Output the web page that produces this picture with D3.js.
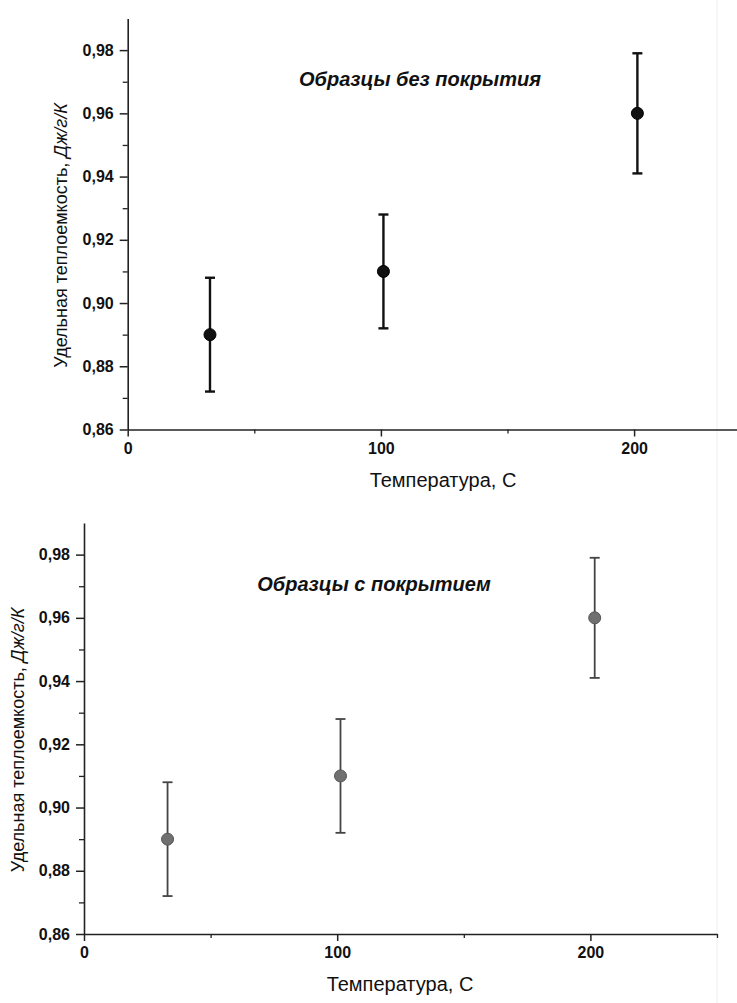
<!DOCTYPE html>
<html>
<head>
<meta charset="utf-8">
<script src="https://cdn.jsdelivr.net/npm/d3@7"></script>
<style>
  body { margin: 0; background: #fff; }
  svg { display: block; }
  text { font-family: "Liberation Sans", Arial, sans-serif; fill: #111; }
</style>
</head>
<body>
<svg id="chart" width="737" height="1003"></svg>
<script>
// ---------------- data
let temps     = [32.5, 101, 201.3];
let cpBare    = [0.890, 0.910, 0.960];
let errBare   = [0.018, 0.018, 0.019];
let temps2    = [33, 101.3, 201.7];
let cpCoated  = [0.890, 0.910, 0.960];
let errCoated = [0.018, 0.018, 0.019];
let yTicks = [0.86, 0.88, 0.90, 0.92, 0.94, 0.96, 0.98];
let xTicks = [0, 100, 200];
let titles = ["Образцы без покрытия", "Образцы с покрытием"];

let svg = d3.select("#chart");

// faint page edge from the scan
svg.append("line").attr("x1", 717).attr("x2", 717).attr("y1", 0).attr("y2", 1003)
    .attr("stroke", "#eee").attr("stroke-width", 1);

let fmt = d => d3.format(".2f")(d).replace(".", ",");

function styleTicks(ax) {
    ax.attr("font-size", 16).attr("font-family", "Liberation Sans, Arial, sans-serif");
    ax.selectAll("text").attr("font-weight", "bold").attr("fill", "#111")
        .style("font-size", "16px").style("font-weight", "bold");
}

function panel(opt) {
    let g = svg.append("g");
    let x = d3.scaleLinear().domain([0, 250]).range([opt.left, opt.left + 633]);
    let y = d3.scaleLinear().domain([0.86, 0.99]).range([opt.bottom, opt.bottom - 411]);

    // y axis: minor + major ticks
    let yAx = g.append("g").attr("transform", "translate(" + opt.left + ",0)")
        .call(d3.axisLeft(y).tickValues(d3.range(0.87, 0.99, 0.02)).tickSize(5).tickFormat(""));
    yAx.select(".domain").remove();
    yAx.selectAll("line").attr("stroke", "#222").attr("stroke-width", 1.3);
    let yAxis = g.append("g").attr("transform", "translate(" + opt.left + ",0)")
        .call(d3.axisLeft(y).tickValues(yTicks).tickSize(8).tickSizeOuter(0).tickPadding(6).tickFormat(fmt));
    yAxis.select(".domain").attr("stroke", "#222").attr("stroke-width", 1.6);
    yAxis.selectAll("line").attr("stroke", "#222").attr("stroke-width", 1.5);
    styleTicks(yAxis);

    // x axis
    let xMinor = g.append("g").attr("transform", "translate(0," + opt.bottom + ")")
        .call(d3.axisBottom(x).tickValues([50, 150, 250]).tickSize(4).tickFormat(""));
    xMinor.select(".domain").remove();
    xMinor.selectAll("line").attr("stroke", "#222").attr("stroke-width", 1.3);
    let xAxis = g.append("g").attr("transform", "translate(0," + opt.bottom + ")")
        .call(d3.axisBottom(x).tickValues(xTicks).tickSize(7).tickSizeOuter(0).tickPadding(6));
    xAxis.select(".domain").attr("stroke", "#222").attr("stroke-width", 1.6);
    xAxis.selectAll("line").attr("stroke", "#222").attr("stroke-width", 1.5);
    styleTicks(xAxis);

    // axis titles
    let yl = g.append("text")
        .attr("transform", "translate(" + opt.yLabelX + "," + (opt.bottom - 194) + ") rotate(-90)")
        .attr("text-anchor", "middle").style("font-size", "18px");
    yl.append("tspan").text("Удельная теплоемкость, ");
    yl.append("tspan").style("font-style", "italic").text("Дж/г/К");
    g.append("text").attr("x", opt.xLabelX).attr("y", opt.bottom + 57)
        .attr("text-anchor", "middle").style("font-size", "20px").text("Температура, С");

    // panel title
    g.append("text").attr("x", opt.titleX).attr("y", opt.bottom - opt.titleDy)
        .attr("text-anchor", "middle").style("font-size", "20px")
        .style("font-weight", "bold").style("font-style", "italic").text(opt.title);

    // error bars
    let pts = opt.xs.map((t, i) => ({t: t, v: opt.vs[i], e: opt.es[i]}));
    let eb = g.selectAll(".eb").data(pts).enter().append("g").attr("class", "eb")
        .attr("stroke", opt.barColor).attr("stroke-width", opt.barWidth);
    eb.append("line").attr("x1", d => x(d.t)).attr("x2", d => x(d.t))
        .attr("y1", d => y(d.v - d.e)).attr("y2", d => y(d.v + d.e));
    eb.append("line").attr("x1", d => x(d.t) - 5).attr("x2", d => x(d.t) + 5)
        .attr("y1", d => y(d.v + d.e)).attr("y2", d => y(d.v + d.e));
    eb.append("line").attr("x1", d => x(d.t) - 5).attr("x2", d => x(d.t) + 5)
        .attr("y1", d => y(d.v - d.e)).attr("y2", d => y(d.v - d.e));

    g.selectAll(".pt").data(pts).enter().append("circle").attr("class", "pt")
        .attr("cx", d => x(d.t)).attr("cy", d => y(d.v)).attr("r", opt.r)
        .attr("fill", opt.fill).attr("stroke", opt.stroke).attr("stroke-width", 1);
}

panel({left: 127.7, bottom: 429.5, xs: temps, vs: cpBare, es: errBare,
    title: titles[0], titleX: 420, titleDy: 344, yLabelX: 67, xLabelX: 443,
    barColor: "#111", barWidth: 2.4, r: 6, fill: "#111", stroke: "#000"});

panel({left: 84, bottom: 934, xs: temps2, vs: cpCoated, es: errCoated,
    title: titles[1], titleX: 374, titleDy: 343, yLabelX: 24, xLabelX: 400,
    barColor: "#444", barWidth: 1.8, r: 6, fill: "#707070", stroke: "#555"});
</script>
</body>
</html>
